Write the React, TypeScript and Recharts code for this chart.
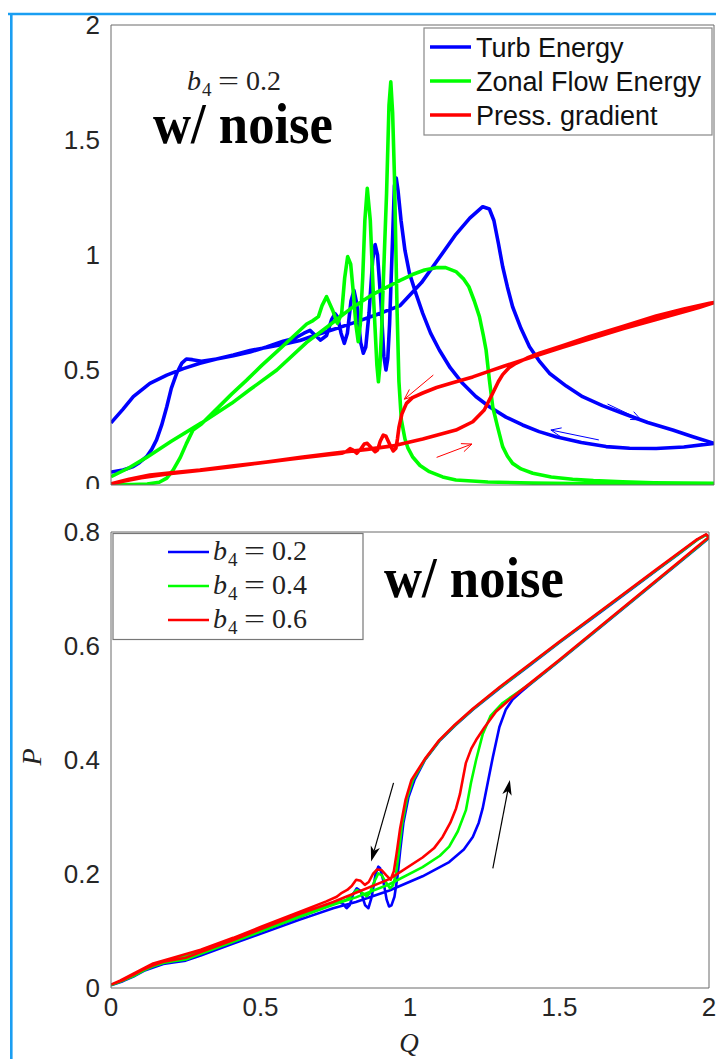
import { LineChart, Line, XAxis, YAxis, ReferenceLine } from 'recharts'

type Pt = [number, number]

// top panel: b4 = 0.2, energies and pressure gradient vs Q (ramp up, then ramp down)
const turbEnergy: Pt[] = [
  [0, 0.27], [0.04, 0.33], [0.074, 0.384], [0.129, 0.442], [0.185, 0.478], [0.24, 0.506], [0.295, 0.529],
  [0.35, 0.548], [0.406, 0.565], [0.461, 0.585], [0.516, 0.598], [0.572, 0.612], [0.627, 0.628], [0.68, 0.652],
  [0.737, 0.676], [0.804, 0.705], [0.88, 0.74], [0.959, 0.78], [1.03, 0.88], [1.09, 0.99], [1.144, 1.09],
  [1.19, 1.16], [1.233, 1.21], [1.255, 1.2], [1.27, 1.15], [1.285, 1.05], [1.299, 0.95], [1.315, 0.86],
  [1.332, 0.775], [1.36, 0.68], [1.388, 0.601], [1.42, 0.54], [1.454, 0.486], [1.51, 0.43], [1.564, 0.384],
  [1.63, 0.345], [1.697, 0.312], [1.78, 0.272], [1.863, 0.239], [1.93, 0.21], [2.0, 0.181],
  [1.9, 0.165], [1.808, 0.159], [1.72, 0.16], [1.642, 0.167], [1.56, 0.185], [1.476, 0.21], [1.42, 0.232],
  [1.365, 0.261], [1.31, 0.295], [1.255, 0.34], [1.21, 0.385], [1.166, 0.442], [1.125, 0.51], [1.089, 0.587],
  [1.06, 0.66], [1.034, 0.746], [1.012, 0.83], [0.99, 0.92], [0.975, 1.02], [0.962, 1.15], [0.952, 1.28],
  [0.946, 1.335], [0.94, 1.3], [0.932, 1.0], [0.924, 0.7], [0.918, 0.55], [0.912, 0.5], [0.905, 0.56],
  [0.895, 0.8], [0.884, 1.0], [0.876, 1.045], [0.868, 0.98], [0.856, 0.75], [0.845, 0.6], [0.837, 0.573],
  [0.828, 0.62], [0.815, 0.79], [0.806, 0.845], [0.796, 0.8], [0.784, 0.66], [0.774, 0.616], [0.763, 0.66],
  [0.752, 0.73], [0.743, 0.745], [0.732, 0.72], [0.715, 0.65], [0.695, 0.63], [0.678, 0.65], [0.66, 0.672],
  [0.64, 0.66], [0.61, 0.638], [0.571, 0.625], [0.516, 0.6], [0.461, 0.578], [0.406, 0.562], [0.35, 0.548],
  [0.3, 0.538], [0.27, 0.545], [0.25, 0.548], [0.235, 0.53], [0.218, 0.486], [0.2, 0.42], [0.185, 0.34],
  [0.168, 0.26], [0.151, 0.196], [0.135, 0.155], [0.118, 0.123], [0.095, 0.098], [0.074, 0.08], [0.04, 0.065],
  [0.007, 0.058], [0, 0.055],
]

const zonalEnergy: Pt[] = [
  [0, 0.036], [0.06, 0.075], [0.118, 0.12], [0.2, 0.19], [0.3, 0.27], [0.4, 0.355], [0.461, 0.415],
  [0.55, 0.5], [0.649, 0.62], [0.72, 0.69], [0.793, 0.765], [0.87, 0.83], [0.959, 0.89], [1.0, 0.915],
  [1.04, 0.935], [1.078, 0.945], [1.11, 0.945], [1.144, 0.928], [1.17, 0.895], [1.187, 0.862], [1.205, 0.8],
  [1.222, 0.732], [1.235, 0.65], [1.244, 0.587], [1.255, 0.457], [1.266, 0.34], [1.282, 0.254], [1.299, 0.167],
  [1.315, 0.125], [1.332, 0.094], [1.36, 0.07], [1.399, 0.051], [1.46, 0.035], [1.531, 0.025], [1.6, 0.019],
  [1.697, 0.014], [1.8, 0.01], [1.9, 0.008], [2.0, 0.007],
  [1.8, 0.004], [1.6, 0.005], [1.4, 0.008], [1.25, 0.013], [1.144, 0.022], [1.1, 0.035], [1.056, 0.058],
  [1.025, 0.085], [1.0, 0.123], [0.985, 0.16], [0.975, 0.2], [0.963, 0.283], [0.955, 0.45], [0.949, 0.75],
  [0.94, 1.35], [0.934, 1.62], [0.928, 1.753], [0.922, 1.65], [0.914, 1.268], [0.905, 0.95], [0.898, 0.688],
  [0.892, 0.52], [0.887, 0.449], [0.882, 0.52], [0.87, 0.833], [0.86, 1.15], [0.85, 1.29], [0.842, 1.15],
  [0.835, 0.906], [0.827, 0.7], [0.82, 0.623], [0.812, 0.7], [0.804, 0.833], [0.795, 0.96], [0.785, 0.993],
  [0.775, 0.9], [0.765, 0.746], [0.751, 0.703], [0.735, 0.76], [0.715, 0.819], [0.7, 0.78], [0.688, 0.732],
  [0.67, 0.715], [0.649, 0.7], [0.6, 0.64], [0.55, 0.58], [0.5, 0.52], [0.45, 0.456], [0.4, 0.395],
  [0.35, 0.33], [0.3, 0.265], [0.272, 0.239], [0.25, 0.18], [0.23, 0.12], [0.206, 0.065], [0.185, 0.03],
  [0.16, 0.012], [0.12, 0.004], [0.07, 0.002], [0, 0.002],
]

const pressGradient: Pt[] = [
  [0, 0.005], [0.06, 0.025], [0.129, 0.043], [0.2, 0.053], [0.295, 0.065], [0.4, 0.082], [0.516, 0.1],
  [0.63, 0.12], [0.737, 0.138], [0.85, 0.155], [0.934, 0.17], [1.034, 0.2], [1.144, 0.239], [1.2, 0.275],
  [1.238, 0.326], [1.266, 0.399], [1.285, 0.45], [1.299, 0.48], [1.32, 0.51], [1.343, 0.529], [1.38, 0.552],
  [1.421, 0.573], [1.5, 0.607], [1.586, 0.645], [1.7, 0.69], [1.808, 0.735], [1.9, 0.765], [1.985, 0.79],
  [2.0, 0.793],
  [1.95, 0.772], [1.808, 0.72], [1.7, 0.68], [1.6, 0.64], [1.5, 0.6], [1.399, 0.558], [1.3, 0.515],
  [1.255, 0.495], [1.2, 0.47], [1.133, 0.445], [1.08, 0.424], [1.034, 0.4], [1.0, 0.38], [0.98, 0.355],
  [0.965, 0.31], [0.955, 0.25], [0.95, 0.2], [0.945, 0.16], [0.936, 0.148], [0.925, 0.175], [0.912, 0.212],
  [0.903, 0.217], [0.893, 0.19], [0.884, 0.152], [0.876, 0.145], [0.865, 0.16], [0.85, 0.181], [0.84, 0.178],
  [0.828, 0.155], [0.815, 0.138], [0.803, 0.152], [0.793, 0.158], [0.78, 0.145], [0.765, 0.138], [0.7, 0.128],
  [0.6, 0.113], [0.5, 0.097], [0.4, 0.08], [0.3, 0.064], [0.2, 0.05], [0.1, 0.032], [0.04, 0.016], [0, 0.005],
]

// bottom panel: pressure gradient P vs Q for three b4 values
const pB02: Pt[] = [
  [0, 0.005], [0.04, 0.012], [0.075, 0.02], [0.11, 0.03], [0.141, 0.036], [0.175, 0.042], [0.208, 0.045],
  [0.25, 0.048], [0.3, 0.057], [0.409, 0.078], [0.5, 0.095], [0.632, 0.12], [0.743, 0.14], [0.819, 0.151],
  [0.931, 0.171], [1.042, 0.196], [1.131, 0.221], [1.18, 0.243], [1.21, 0.265], [1.23, 0.29], [1.243, 0.315],
  [1.26, 0.36], [1.277, 0.405], [1.299, 0.458], [1.32, 0.488], [1.343, 0.506], [1.37, 0.519], [1.4, 0.532],
  [1.5, 0.574], [1.6, 0.617], [1.7, 0.66], [1.8, 0.703], [1.9, 0.746], [1.96, 0.772], [1.99, 0.785], [2.0, 0.79],
  [1.99, 0.795], [1.96, 0.786], [1.9, 0.762], [1.823, 0.732], [1.7, 0.684], [1.6, 0.645], [1.5, 0.606],
  [1.4, 0.566], [1.3, 0.526], [1.21, 0.488], [1.15, 0.46], [1.098, 0.433], [1.05, 0.4], [1.015, 0.365],
  [0.995, 0.335], [0.978, 0.29], [0.967, 0.24], [0.958, 0.195], [0.948, 0.16], [0.938, 0.145], [0.93, 0.143],
  [0.922, 0.155], [0.91, 0.19], [0.9, 0.21], [0.894, 0.213], [0.885, 0.2], [0.872, 0.16], [0.861, 0.14],
  [0.85, 0.145], [0.835, 0.17], [0.822, 0.175], [0.81, 0.165], [0.798, 0.145], [0.788, 0.14], [0.775, 0.148],
  [0.755, 0.152], [0.72, 0.143], [0.632, 0.125], [0.5, 0.1], [0.409, 0.083], [0.3, 0.062], [0.208, 0.049],
  [0.141, 0.039], [0.075, 0.021], [0.03, 0.01], [0, 0.005],
]

const pB04: Pt[] = [
  [0, 0.005], [0.04, 0.013], [0.075, 0.021], [0.11, 0.031], [0.141, 0.038], [0.175, 0.044], [0.208, 0.047],
  [0.25, 0.05], [0.3, 0.06], [0.409, 0.081], [0.5, 0.099], [0.632, 0.125], [0.743, 0.146], [0.819, 0.159],
  [0.931, 0.182], [1.042, 0.212], [1.1, 0.232], [1.131, 0.248], [1.16, 0.275], [1.187, 0.312], [1.204, 0.36],
  [1.221, 0.4], [1.243, 0.445], [1.27, 0.478], [1.31, 0.5], [1.35, 0.515], [1.4, 0.533], [1.5, 0.575],
  [1.6, 0.618], [1.7, 0.661], [1.8, 0.704], [1.9, 0.747], [1.96, 0.773], [1.99, 0.786], [2.0, 0.79],
  [1.99, 0.795], [1.96, 0.786], [1.9, 0.763], [1.823, 0.733], [1.7, 0.685], [1.6, 0.646], [1.5, 0.607],
  [1.4, 0.567], [1.3, 0.527], [1.21, 0.489], [1.15, 0.461], [1.098, 0.434], [1.05, 0.401], [1.01, 0.365],
  [0.99, 0.333], [0.973, 0.285], [0.962, 0.235], [0.953, 0.2], [0.943, 0.18], [0.933, 0.175], [0.92, 0.185],
  [0.905, 0.198], [0.894, 0.201], [0.88, 0.186], [0.865, 0.166], [0.855, 0.161], [0.84, 0.167], [0.822, 0.172],
  [0.805, 0.163], [0.788, 0.155], [0.76, 0.151], [0.72, 0.146], [0.632, 0.128], [0.5, 0.102], [0.409, 0.085],
  [0.3, 0.064], [0.208, 0.05], [0.141, 0.04], [0.075, 0.022], [0.03, 0.011], [0, 0.005],
]

const pB06: Pt[] = [
  [0, 0.006], [0.04, 0.014], [0.075, 0.023], [0.11, 0.033], [0.141, 0.04], [0.175, 0.046], [0.208, 0.049],
  [0.25, 0.053], [0.3, 0.063], [0.409, 0.084], [0.5, 0.103], [0.632, 0.13], [0.743, 0.151], [0.819, 0.167],
  [0.931, 0.191], [1.042, 0.229], [1.08, 0.245], [1.109, 0.265], [1.135, 0.29], [1.154, 0.315], [1.167, 0.34],
  [1.176, 0.365], [1.187, 0.395], [1.205, 0.42], [1.221, 0.435], [1.25, 0.458], [1.288, 0.485], [1.34, 0.509],
  [1.4, 0.534], [1.5, 0.576], [1.6, 0.619], [1.7, 0.662], [1.8, 0.705], [1.9, 0.748], [1.96, 0.774],
  [1.99, 0.787], [2.0, 0.791],
  [1.99, 0.796], [1.96, 0.787], [1.9, 0.764], [1.823, 0.734], [1.7, 0.686], [1.6, 0.647], [1.5, 0.608],
  [1.4, 0.568], [1.3, 0.528], [1.21, 0.49], [1.15, 0.462], [1.098, 0.435], [1.05, 0.402], [1.005, 0.365],
  [0.985, 0.33], [0.967, 0.28], [0.955, 0.235], [0.946, 0.205], [0.935, 0.19], [0.92, 0.198], [0.905, 0.207],
  [0.89, 0.208], [0.876, 0.2], [0.862, 0.186], [0.849, 0.181], [0.835, 0.188], [0.82, 0.19], [0.805, 0.179],
  [0.79, 0.172], [0.772, 0.167], [0.755, 0.16], [0.72, 0.152], [0.632, 0.134], [0.5, 0.107], [0.409, 0.088],
  [0.3, 0.067], [0.208, 0.053], [0.141, 0.043], [0.075, 0.025], [0.03, 0.013], [0, 0.006],
]

const qTicks = [0, 0.5, 1, 1.5, 2]
const qInnerTicks = [0.5, 1, 1.5]
const topYTicks = [0, 0.5, 1, 1.5, 2]
const topYInner = [0.5, 1, 1.5]
const botYTicks = [0, 0.2, 0.4, 0.6, 0.8]
const botYInner = [0.2, 0.4, 0.6]

const topSeries = [
  { name: 'Turb Energy', color: '#0000ff', pts: turbEnergy },
  { name: 'Zonal Flow Energy', color: '#00ff00', pts: zonalEnergy },
  { name: 'Press. gradient', color: '#ff0000', pts: pressGradient },
]
const botSeries = [
  { b4: '0.2', color: '#0000ff', pts: pB02 },
  { b4: '0.4', color: '#00ff00', pts: pB04 },
  { b4: '0.6', color: '#ff0000', pts: pB06 },
]

// direction arrows, [q1, y1, q2, y2] with the head at the second point
const topArrows = [
  { color: '#ff0000', seg: [1.069, 0.478, 0.973, 0.373] },
  { color: '#ff0000', seg: [1.08, 0.12, 1.197, 0.178] },
  { color: '#0000ff', seg: [1.647, 0.352, 1.758, 0.283] },
  { color: '#0000ff', seg: [1.618, 0.196, 1.459, 0.239] },
]
const botArrows = [
  { color: '#000000', seg: [0.945, 0.36, 0.87, 0.222] },
  { color: '#000000', seg: [1.277, 0.21, 1.334, 0.365] },
]

const sans = "'Liberation Sans', Arial, Helvetica, sans-serif"
const serif = "'Liberation Serif', 'Times New Roman', serif"
const axisColor = '#6b6b6b'
const tickFont = { fontSize: 26, fill: '#262626', fontFamily: sans }

const toData = (pts: Pt[]) => pts.map(([x, y]) => ({ x, y }))

function arrowShape(color: string, w: number, filled: boolean, head: number) {
  return (p: any) => {
    const { x1, y1, x2, y2 } = p
    const a = Math.atan2(y2 - y1, x2 - x1)
    const s = filled ? 0.3 : 0.4
    const ax = x2 - head * Math.cos(a - s)
    const ay = y2 - head * Math.sin(a - s)
    const bx = x2 - head * Math.cos(a + s)
    const by = y2 - head * Math.sin(a + s)
    const cx = x2 - head * 0.7 * Math.cos(a)
    const cy = y2 - head * 0.7 * Math.sin(a)
    return (
      <g>
        <line x1={x1} y1={y1} x2={filled ? cx : x2} y2={filled ? cy : y2} stroke={color} strokeWidth={w} />
        {filled ? (
          <polygon points={`${x2},${y2} ${ax},${ay} ${cx},${cy} ${bx},${by}`} fill={color} />
        ) : (
          <polyline points={`${ax},${ay} ${x2},${y2} ${bx},${by}`} fill="none" stroke={color} strokeWidth={w} />
        )}
      </g>
    )
  }
}

// "b4 = value" written as separate pieces so the math spacing looks like the LaTeX label
function B4Label({ x, y, value }: { x: number; y: number; value: string }) {
  return (
    <g fontFamily={serif} fill="#222">
      <text x={x} y={y} fontSize={28} fontStyle="italic">b</text>
      <text x={x + 15} y={y + 6} fontSize={19}>4</text>
      <text x={x + 31} y={y} fontSize={28} textLength={21} lengthAdjust="spacingAndGlyphs">=</text>
      <text x={x + 59} y={y} fontSize={28}>{value}</text>
    </g>
  )
}

export default function App() {
  return (
    <div style={{ position: 'absolute', left: 0, top: 0, width: 716, height: 1059, background: '#fff', overflow: 'hidden' }}>
      <div style={{ position: 'absolute', left: 0, top: 0, width: 716, height: 489, overflow: 'hidden' }}>
        <LineChart width={716} height={489} margin={{ top: 25, right: 2, bottom: 0, left: 0 }} style={{ overflow: 'visible' }}>
          <XAxis dataKey="x" type="number" domain={[0, 2]} ticks={qTicks} allowDataOverflow height={4}
            tick={false} tickLine={false} axisLine={{ stroke: axisColor }} />
          <XAxis xAxisId="bin" type="number" domain={[0, 2]} ticks={qInnerTicks} mirror tick={false}
            axisLine={false} tickSize={6} tickLine={{ stroke: axisColor }} />
          <XAxis xAxisId="top" orientation="top" type="number" domain={[0, 2]} ticks={qInnerTicks} mirror tick={false}
            axisLine={{ stroke: axisColor }} tickSize={6} tickLine={{ stroke: axisColor }} />
          <YAxis type="number" domain={[0, 2]} ticks={topYTicks} interval={0} allowDataOverflow width={111}
            tickLine={false} tickSize={6} tickMargin={5} tick={tickFont} axisLine={{ stroke: axisColor }} />
          <YAxis yAxisId="lin" type="number" domain={[0, 2]} ticks={topYInner} mirror tick={false}
            axisLine={false} tickSize={6} tickLine={{ stroke: axisColor }} />
          <YAxis yAxisId="right" orientation="right" type="number" domain={[0, 2]} ticks={topYInner} mirror tick={false}
            axisLine={{ stroke: axisColor }} tickSize={6} tickLine={{ stroke: axisColor }} />
          {topSeries.map((s) => (
            <Line key={s.name} data={toData(s.pts)} dataKey="y" type="linear" stroke={s.color} strokeWidth={3.6}
              strokeLinejoin="round" dot={false} isAnimationActive={false} />
          ))}
          {topArrows.map((a, i) => (
            <ReferenceLine key={i} segment={[{ x: a.seg[0], y: a.seg[1] }, { x: a.seg[2], y: a.seg[3] }]}
              shape={arrowShape(a.color, 1, false, 11)} />
          ))}
        </LineChart>
      </div>

      <div style={{ position: 'absolute', left: 0, top: 500, width: 716, height: 559 }}>
        <LineChart width={716} height={559} margin={{ top: 32, right: 7, bottom: 0, left: 0 }}>
          <XAxis dataKey="x" type="number" domain={[0, 2]} ticks={qTicks} interval={0} allowDataOverflow height={71}
            tickLine={false} tickSize={6} tickMargin={4} tick={tickFont} axisLine={{ stroke: axisColor }} />
          <XAxis xAxisId="bin" type="number" domain={[0, 2]} ticks={qInnerTicks} mirror tick={false}
            axisLine={false} tickSize={6} tickLine={{ stroke: axisColor }} />
          <XAxis xAxisId="top" orientation="top" type="number" domain={[0, 2]} ticks={qInnerTicks} mirror tick={false}
            axisLine={{ stroke: axisColor }} tickSize={6} tickLine={{ stroke: axisColor }} />
          <YAxis type="number" domain={[0, 0.8]} ticks={botYTicks} interval={0} allowDataOverflow width={111}
            tickLine={false} tickSize={6} tickMargin={5} tick={tickFont} axisLine={{ stroke: axisColor }} />
          <YAxis yAxisId="lin" type="number" domain={[0, 0.8]} ticks={botYInner} mirror tick={false}
            axisLine={false} tickSize={6} tickLine={{ stroke: axisColor }} />
          <YAxis yAxisId="right" orientation="right" type="number" domain={[0, 0.8]} ticks={botYInner} mirror tick={false}
            axisLine={{ stroke: axisColor }} tickSize={6} tickLine={{ stroke: axisColor }} />
          {botSeries.map((s) => (
            <Line key={s.b4} data={toData(s.pts)} dataKey="y" type="linear" stroke={s.color} strokeWidth={2.6}
              strokeLinejoin="round" dot={false} isAnimationActive={false} />
          ))}
          {botArrows.map((a, i) => (
            <ReferenceLine key={i} segment={[{ x: a.seg[0], y: a.seg[1] }, { x: a.seg[2], y: a.seg[3] }]}
              shape={arrowShape(a.color, 1.2, true, 16)} />
          ))}
        </LineChart>
      </div>

      <svg width={716} height={1059} style={{ position: 'absolute', left: 0, top: 0, pointerEvents: 'none' }}>
        <line x1={8} y1={14} x2={716} y2={14} stroke="#1a9ef2" strokeWidth={2.6} />
        <line x1={11.3} y1={13} x2={11.3} y2={1059} stroke="#1a9ef2" strokeWidth={2.6} />

        <B4Label x={187} y={90} value="0.2" />
        <text x={153} y={143} fontFamily={serif} fontWeight="bold" fontSize={57} textLength={180}
          lengthAdjust="spacingAndGlyphs" fill="#000">w/ noise</text>

        <rect x={424} y={28} width={288} height={107} fill="#fff" stroke="#888" strokeWidth={1.2} />
        {topSeries.map((s, i) => (
          <g key={s.name}>
            <line x1={430} x2={471} y1={47 + i * 34} y2={47 + i * 34} stroke={s.color} strokeWidth={3.6} />
            <text x={476} y={57 + i * 34} fontFamily={sans} fontSize={27} fill="#111">{s.name}</text>
          </g>
        ))}

        <rect x={113} y={533.5} width={250} height={106} fill="#fff" stroke="#777" strokeWidth={1.2} />
        {botSeries.map((s, i) => (
          <g key={s.b4}>
            <line x1={168} x2={209} y1={552 + i * 34} y2={552 + i * 34} stroke={s.color} strokeWidth={2.6} />
            <B4Label x={213} y={560 + i * 34} value={s.b4} />
          </g>
        ))}
        <text x={384} y={597} fontFamily={serif} fontWeight="bold" fontSize={57} textLength={180}
          lengthAdjust="spacingAndGlyphs" fill="#000">w/ noise</text>

        <text x={409} y={1052} textAnchor="middle" fontFamily={serif} fontStyle="italic" fontSize={27} fill="#222">Q</text>
        <text transform="translate(41,757) rotate(-90)" textAnchor="middle" fontFamily={serif} fontStyle="italic"
          fontSize={28} fill="#222">P</text>
      </svg>
    </div>
  )
}
